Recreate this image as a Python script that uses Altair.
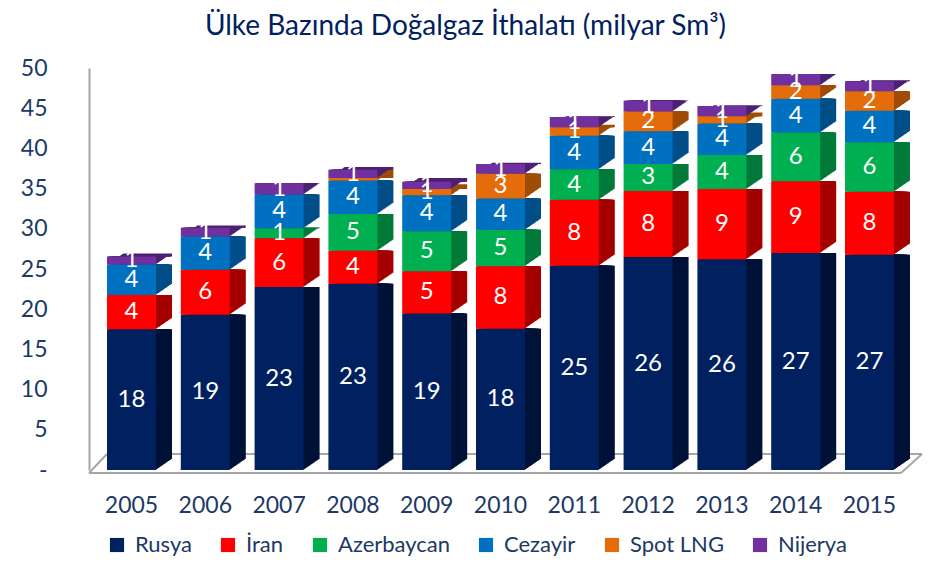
import altair as alt
import pandas as pd

years = ["2005", "2006", "2007", "2008", "2009", "2010", "2011", "2012", "2013", "2014", "2015"]
series = ["Rusya", "İran", "Azerbaycan", "Cezayir", "Spot LNG", "Nijerya"]
rusya = [17.52, 19.32, 22.76, 23.16, 19.47, 17.58, 25.41, 26.49, 26.21, 26.98, 26.78]
iran = [4.25, 5.59, 6.05, 4.11, 5.25, 7.77, 8.19, 8.22, 8.73, 8.93, 7.83]
azerbaycan = [0, 0, 1.26, 4.58, 4.96, 4.52, 3.81, 3.35, 4.25, 6.07, 6.17]
cezayir = [3.79, 4.13, 4.21, 4.15, 4.49, 3.91, 4.16, 4.08, 3.92, 4.18, 3.90]
spot_lng = [0, 0, 0, 0.33, 0.78, 3.08, 1.07, 2.46, 0.89, 1.69, 2.44]
nijerya = [1.01, 1.10, 1.40, 1.02, 0.90, 1.19, 1.25, 1.32, 1.27, 1.41, 1.24]

front_colors = ["#002060", "#FF0000", "#00B050", "#0070C0", "#E46C0A", "#7030A0"]
side_colors = ["#001238", "#A50000", "#007A3A", "#004E88", "#A04C06", "#4C2172"]
text_color = "#203864"
floor_color = "#A6A6A6"
font = "Lato"

values = [rusya, iran, azerbaycan, cezayir, spot_lng, nijerya]
rows = []
for k, (name, vals) in enumerate(zip(series, values)):
    for yr, v in zip(years, vals):
        if v > 0:
            rows.append({"year": yr, "series": name, "k": k, "value": v})
df = pd.DataFrame(rows)

W, H = 823, 402

x_axis = alt.Axis(labelAngle=0, labelFont=font, labelFontSize=23,
                  labelColor=text_color, ticks=False, tickSize=0,
                  labelPadding=24, domain=False)
y_axis = alt.Axis(values=list(range(0, 51, 5)), grid=False, ticks=False,
                  tickSize=0, labelFont=font, labelFontSize=23,
                  labelColor=text_color, labelPadding=42,
                  domainColor=floor_color, domainWidth=2,
                  labelExpr="datum.value == 0 ? '-' : datum.label")
x_scale = alt.Scale(paddingInner=0.336, paddingOuter=0.244)
y_scale = alt.Scale(domain=[0, 50], nice=False, zero=True)

x_enc = alt.X("year:N", title=None, scale=x_scale, axis=x_axis)
y_enc = alt.Y("y0:Q", title=None, scale=y_scale, axis=y_axis)

base = alt.Chart(df).transform_stack(
    stack="value", groupby=["year"], as_=["y0", "y1"],
    sort=[alt.SortField("k", order="ascending")]
)

# 3D floor outline
floor_df = pd.DataFrame({"y0": [0]})
floor_front = alt.Chart(floor_df).mark_rule(
    color=floor_color, strokeWidth=2, yOffset=3
).encode(y=y_enc, x=alt.value(0), x2=alt.value(812))
floor_back = alt.Chart(floor_df).mark_rule(
    color=floor_color, strokeWidth=2, yOffset=-16
).encode(y=y_enc, x=alt.value(18), x2=alt.value(833))
floor_left = alt.Chart(floor_df).mark_rule(
    color=floor_color, strokeWidth=2
).encode(x=alt.value(0), x2=alt.value(18), y=alt.value(H + 3), y2=alt.value(H - 16))
floor_right = alt.Chart(floor_df).mark_rule(
    color=floor_color, strokeWidth=2
).encode(x=alt.value(812), x2=alt.value(833), y=alt.value(H + 3), y2=alt.value(H - 16))

layers = []
N = 16
for i in range(N, 0, -1):
    layers.append(
        base.mark_bar(xOffset=i, yOffset=-i * 11.0 / N).encode(
            x=x_enc, y=y_enc, y2="y1:Q",
            color=alt.Color("series:N", scale=alt.Scale(domain=series, range=side_colors),
                            legend=None)
        )
    )

front = base.mark_bar().encode(
    x=x_enc, y=y_enc, y2="y1:Q",
    color=alt.Color("series:N", scale=alt.Scale(domain=series, range=front_colors),
                    sort=series,
                    legend=alt.Legend(orient="none", legendX=17, legendY=466,
                                      direction="horizontal", title=None,
                                      symbolType="square", symbolSize=200,
                                      symbolStrokeWidth=0,
                                      labelFont=font, labelFontSize=22,
                                      labelColor=text_color, labelOffset=7,
                                      columnPadding=25))
)

labels = base.transform_filter("datum.value >= 0.5").transform_calculate(
    mid="(datum.y0 + datum.y1) / 2"
).mark_text(color="white", font=font, fontSize=24, baseline="middle").encode(
    x=x_enc,
    y=alt.Y("mid:Q", title=None, scale=y_scale, axis=y_axis),
    text=alt.Text("value:Q", format=".0f")
)

chart = alt.layer(floor_back, floor_front, floor_left, floor_right,
                  *layers, front, labels).resolve_scale(
    color="independent"
).properties(
    width=W, height=H,
    autosize="none",
    padding={"left": 81, "top": 60, "right": 12, "bottom": 86},
    title=alt.TitleParams("Ülke Bazında Doğalgaz İthalatı (milyar Sm³)",
                          font=font, fontSize=28, fontWeight="normal",
                          color="#002060", anchor="middle", dx=-35, offset=16)
).configure_view(stroke=None)

chart.save("out.html", embed_options={"renderer": "svg", "actions": False})
